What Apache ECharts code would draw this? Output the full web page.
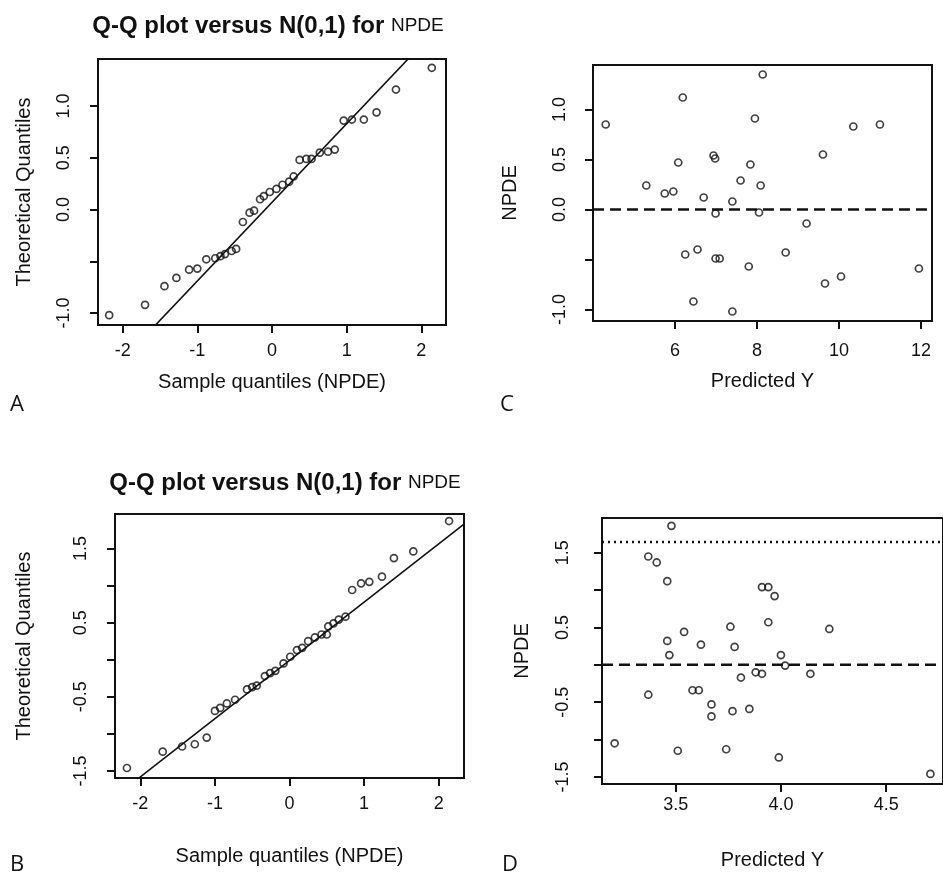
<!DOCTYPE html>
<html>
<head>
<meta charset="utf-8">
<script src="https://cdn.jsdelivr.net/npm/echarts@6/dist/echarts.min.js"></script>
<style>html,body{margin:0;padding:0;background:#fff}#c{width:943px;height:880px}</style>
</head>
<body>
<div id="c"></div>
<script>
// ---- Panel A: Q-Q plot (first model) ----
const aX = [-2.18,-1.70,-1.44,-1.28,-1.11,-1.00,-0.88,-0.76,-0.69,-0.63,-0.54,-0.48,-0.39,-0.30,-0.24,-0.16,-0.11,-0.03,0.06,0.14,0.23,0.29,0.37,0.46,0.53,0.64,0.75,0.84,0.96,1.07,1.23,1.40,1.66,2.14];
const aY = [-1.02,-0.92,-0.74,-0.66,-0.58,-0.57,-0.48,-0.47,-0.45,-0.43,-0.40,-0.38,-0.12,-0.03,-0.01,0.10,0.13,0.17,0.20,0.24,0.27,0.32,0.48,0.49,0.49,0.55,0.56,0.58,0.86,0.87,0.87,0.94,1.16,1.37];
const qqLineA = [0.07, 0.76]; // intercept, slope

// ---- Panel C: NPDE vs predicted (first model) ----
const cX = [4.31,6.19,8.14,7.95,10.35,11.00,9.61,6.08,6.94,6.98,7.84,7.60,8.09,5.30,5.75,5.96,6.70,7.40,6.99,8.05,9.21,6.25,6.55,6.99,7.09,7.80,8.70,11.95,9.66,10.05,6.45,7.40];
const cY = [0.85,1.12,1.35,0.91,0.83,0.85,0.55,0.47,0.54,0.51,0.45,0.29,0.24,0.24,0.16,0.18,0.12,0.08,-0.04,-0.03,-0.14,-0.45,-0.40,-0.49,-0.49,-0.57,-0.43,-0.59,-0.74,-0.67,-0.92,-1.02];

// ---- Panel B: Q-Q plot (second model) ----
const bX = [-2.18,-1.70,-1.44,-1.27,-1.11,-1.00,-0.93,-0.84,-0.73,-0.57,-0.50,-0.44,-0.33,-0.26,-0.19,-0.08,0.01,0.10,0.17,0.25,0.34,0.43,0.50,0.52,0.59,0.66,0.75,0.84,0.96,1.07,1.24,1.40,1.66,2.14];
const bY = [-1.46,-1.24,-1.17,-1.14,-1.05,-0.69,-0.65,-0.59,-0.54,-0.40,-0.37,-0.35,-0.22,-0.18,-0.15,-0.05,0.04,0.13,0.16,0.25,0.30,0.34,0.34,0.45,0.49,0.54,0.58,0.94,1.03,1.05,1.12,1.37,1.46,1.87];
const qqLineB = [-0.01, 0.785];

// ---- Panel D: NPDE vs predicted (second model) ----
const dX = [3.48,3.37,3.41,3.46,3.91,3.94,3.97,3.94,3.76,4.23,3.46,3.54,3.62,3.78,3.47,4.00,4.02,3.88,3.91,4.14,3.81,3.37,3.58,3.61,3.67,3.67,3.77,3.85,3.21,3.51,3.74,3.99,4.71];
const dY = [1.86,1.45,1.37,1.12,1.04,1.04,0.92,0.57,0.51,0.48,0.32,0.44,0.27,0.24,0.13,0.13,-0.01,-0.10,-0.12,-0.12,-0.17,-0.40,-0.34,-0.34,-0.53,-0.69,-0.62,-0.59,-1.05,-1.15,-1.13,-1.24,-1.46];
const dashedRefC = 0;
const dashedRefD = 0;
const dottedRefD = 1.645;

// ---- ticks and labels ----
const ticksQQx = [-2,-1,0,1,2];
const ticksY1 = [-1,-0.5,0,0.5,1];
const labelsY1 = [-1,0,0.5,1];
const ticksCx = [6,8,10,12];
const ticksY2 = [-1.5,-1,-0.5,0,0.5,1,1.5];
const labelsY2 = [-1.5,-0.5,0.5,1.5];
const ticksDx = [3.5,4.0,4.5];

// axis ranges [min, max]
const rangeAx = [-2.33, 2.33], rangeAy = [-1.115, 1.455];
const rangeCx = [4.0, 12.27],  rangeCy = [-1.115, 1.445];
const rangeBx = [-2.34, 2.34], rangeBy = [-1.595, 1.965];
const rangeDx = [3.15, 4.77],  rangeDy = [-1.595, 1.965];

const titleText = 'Q-Q plot versus N(0,1) for ';
const qqXName = 'Sample quantiles (NPDE)';
const qqYName = 'Theoretical Quantiles';
const resXName = 'Predicted Y';
const resYName = 'NPDE';

const FONT = '"Liberation Sans", Arial, sans-serif';
const INK = '#111';

function pairs(xs, ys){ return xs.map((x,i)=>[x, ys[i]]); }
function lineOver(range, ab){ return range.map(x=>[x, ab[0] + ab[1]*x]); }

function xAxis(idx, range, ticks, labels, fmt, name, labelMargin, nameGap){
  return {
    type:'value', gridIndex: idx, min: range[0], max: range[1], position:'bottom',
    axisLine:{show:false, onZero:false}, splitLine:{show:false},
    axisTick:{show:true, inside:false, length:8, lineStyle:{color:INK, width:2}, customValues: ticks},
    axisLabel:{show:true, customValues: labels, formatter: fmt, margin: labelMargin,
      color:INK, fontFamily:FONT, fontSize:18},
    name: name, nameLocation:'middle', nameGap: nameGap,
    nameTextStyle:{color:INK, fontFamily:FONT, fontSize:20}
  };
}
function yAxis(idx, range, ticks, labels, name, labelMargin, nameGap){
  return {
    type:'value', gridIndex: idx, min: range[0], max: range[1], position:'left',
    axisLine:{show:false, onZero:false}, splitLine:{show:false},
    axisTick:{show:true, inside:false, length:8, lineStyle:{color:INK, width:2}, customValues: ticks},
    axisLabel:{show:true, customValues: labels, rotate:90, formatter: v=>Number(v).toFixed(1),
      margin: labelMargin, color:INK, fontFamily:FONT, fontSize:18},
    name: name, nameLocation:'middle', nameGap: nameGap, nameRotate: 90,
    nameTextStyle:{color:INK, fontFamily:FONT, fontSize:20}
  };
}
const pointStyle = {color:'rgba(255,255,255,0)', borderColor:INK, borderWidth:1.7};
function scatter(idx, data){
  return {type:'scatter', xAxisIndex:idx, yAxisIndex:idx, data:data, symbol:'circle', symbolSize:7,
    itemStyle: pointStyle, silent:true, z:3};
}
function line(idx, data, type, width){
  return {type:'line', xAxisIndex:idx, yAxisIndex:idx, data:data, symbol:'none', clip:true,
    lineStyle:{color:INK, width:width, type:type}, silent:true, z:2};
}

const grids = [
  {left:98,  top:59,  width:348, height:266}, // A
  {left:593, top:65,  width:339, height:256}, // C
  {left:115, top:514, width:349, height:264}, // B
  {left:602, top:518, width:346, height:266}  // D
].map(g=>Object.assign({show:true, borderColor:INK, borderWidth:2, backgroundColor:'transparent'}, g));

const intFmt = v=>String(v);
const dec1 = v=>Number(v).toFixed(1);

const titleRich = {b:{fontFamily:FONT, fontWeight:'bold', fontSize:24, fill:INK}, n:{fontFamily:FONT, fontSize:19, fill:INK}};
const LETTER_FONT = '"Open Sans", sans-serif';

const option = {
  backgroundColor:'#fff',
  animation:false,
  grid: grids,
  xAxis: [
    xAxis(0, rangeAx, ticksQQx, ticksQQx, intFmt, qqXName, 17, 47),
    xAxis(1, rangeCx, ticksCx, ticksCx, intFmt, resXName, 21, 50),
    xAxis(2, rangeBx, ticksQQx, ticksQQx, intFmt, qqXName, 17, 68),
    xAxis(3, rangeDx, ticksDx, ticksDx, dec1, resXName, 12, 66)
  ],
  yAxis: [
    yAxis(0, rangeAy, ticksY1, labelsY1, qqYName, 25, 64),
    yAxis(1, rangeCy, ticksY1, labelsY1, resYName, 24, 73),
    yAxis(2, rangeBy, ticksY2, labelsY2, qqYName, 25, 81),
    yAxis(3, rangeDy, ticksY2, labelsY2, resYName, 30, 70)
  ],
  series: [
    scatter(0, pairs(aX, aY)),
    line(0, lineOver(rangeAx, qqLineA), 'solid', 1.6),
    scatter(1, pairs(cX, cY)),
    line(1, rangeCx.map(x=>[x, dashedRefC]), [11,6], 2.5),
    scatter(2, pairs(bX, bY)),
    line(2, lineOver(rangeBx, qqLineB), 'solid', 1.6),
    scatter(3, pairs(dX, dY)),
    line(3, rangeDx.map(x=>[x, dashedRefD]), [11,6], 2.5),
    line(3, rangeDx.map(x=>[x, dottedRefD]), [2,4], 2.5)
  ],
  graphic: [
    {type:'text', x:268, y:26, style:{text:'{b|'+titleText+'}{n|NPDE}', align:'center', verticalAlign:'middle', rich:titleRich}},
    {type:'text', x:285, y:483, style:{text:'{b|'+titleText+'}{n|NPDE}', align:'center', verticalAlign:'middle', rich:titleRich}},
    {type:'text', x:10, y:405, style:{text:'A', fontFamily:LETTER_FONT, fontSize:22, fill:INK, verticalAlign:'middle'}},
    {type:'text', x:500, y:405, style:{text:'C', fontFamily:LETTER_FONT, fontSize:22, fill:INK, verticalAlign:'middle'}},
    {type:'text', x:10, y:865, style:{text:'B', fontFamily:LETTER_FONT, fontSize:22, fill:INK, verticalAlign:'middle'}},
    {type:'text', x:502, y:865, style:{text:'D', fontFamily:LETTER_FONT, fontSize:22, fill:INK, verticalAlign:'middle'}}
  ]
};
const chart = echarts.init(document.getElementById('c'), null, {renderer:'canvas'});
chart.setOption(option);
</script>
</body>
</html>
